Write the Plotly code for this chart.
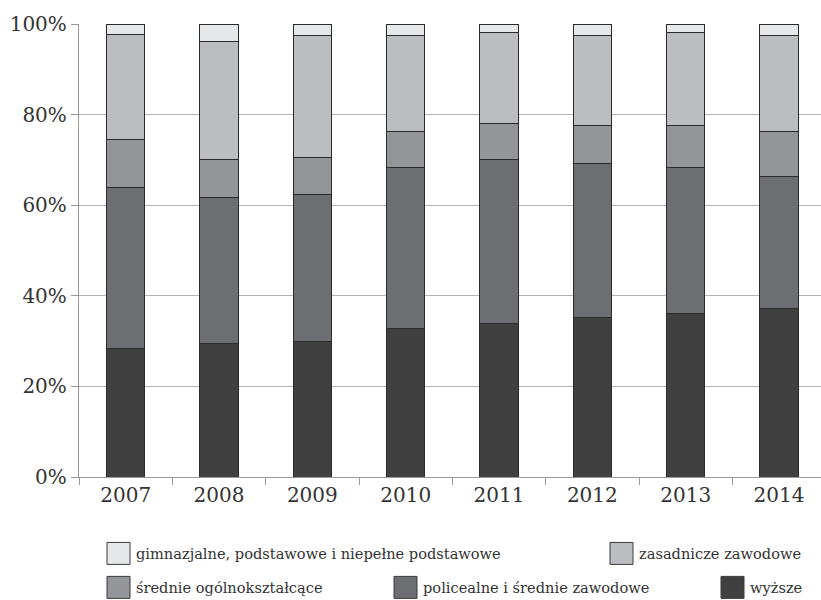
import plotly.graph_objects as go

years = ["2007", "2008", "2009", "2010", "2011", "2012", "2013", "2014"]

# shares of each education level, percent (bottom to top of the stack)
wyzsze = [28.3, 29.4, 29.9, 32.7, 33.8, 35.2, 36.1, 37.2]
policealne = [35.7, 32.2, 32.5, 35.7, 36.2, 33.9, 32.3, 29.2]
srednie_ogolne = [10.5, 8.4, 8.1, 7.8, 8.1, 8.6, 9.3, 9.8]
zasadnicze = [23.1, 26.2, 26.9, 21.2, 20.0, 19.7, 20.4, 21.2]
gimnazjalne = [2.4, 3.8, 2.6, 2.6, 1.9, 2.6, 1.9, 2.6]

y_ticks = [0, 20, 40, 60, 80, 100]
y_labels = ["0%", "20%", "40%", "60%", "80%", "100%"]

series = [
    ("wyższe", wyzsze, "#404041"),
    ("policealne i średnie zawodowe", policealne, "#6d6e71"),
    ("średnie ogólnokształcące", srednie_ogolne, "#939598"),
    ("zasadnicze zawodowe", zasadnicze, "#bcbdc0"),
    ("gimnazjalne, podstawowe i niepełne podstawowe", gimnazjalne, "#e6e7e8"),
]

W, H = 821, 600
fig = go.Figure()
for name, vals, color in series:
    fig.add_trace(go.Bar(
        x=years, y=vals, name=name, width=0.41,
        marker=dict(color=color, line=dict(color="#2b2b2b", width=1)),
        showlegend=False,
    ))

font_ticks = dict(family="DejaVu Serif", size=20, color="#333333")

fig.update_layout(
    width=W, height=H,
    barmode="stack",
    paper_bgcolor="white", plot_bgcolor="white",
    margin=dict(l=79, r=0, t=24, b=122.5),
    xaxis=dict(
        type="category", range=[-0.5, 7.45],
        showline=True, linecolor="#9a9a9a", linewidth=1.3,
        ticks="outside", tickson="boundaries", ticklen=7, tickcolor="#9a9a9a",
        tickfont=font_ticks, showgrid=False,
    ),
    yaxis=dict(
        range=[0, 100], tickmode="array", tickvals=y_ticks, ticktext=y_labels,
        showline=True, linecolor="#9a9a9a", linewidth=1.3,
        ticks="outside", ticklen=7, tickcolor="#9a9a9a",
        showgrid=True, gridcolor="#b3b3b3", gridwidth=1.3,
        tickfont=font_ticks, zeroline=False,
    ),
)

# legend drawn as swatches with labels, in pixel positions converted to paper units
pw = W - 79
ph = H - 24 - 122.5


def px_x(x):
    return (x - 79) / pw


def px_y(y):
    return (H - 122.5 - y) / ph


legend_items = [
    ("gimnazjalne, podstawowe i niepełne podstawowe", "#e6e7e8", 107, 543),
    ("zasadnicze zawodowe", "#bcbdc0", 610, 543),
    ("średnie ogólnokształcące", "#939598", 107, 577),
    ("policealne i średnie zawodowe", "#6d6e71", 394, 577),
    ("wyższe", "#404041", 721, 577),
]
for label, color, x0, y0 in legend_items:
    fig.add_shape(
        type="rect", xref="paper", yref="paper",
        x0=px_x(x0), x1=px_x(x0 + 23), y0=px_y(y0 + 22), y1=px_y(y0),
        fillcolor=color, line=dict(color="#3a3a3a", width=1),
    )
    fig.add_annotation(
        xref="paper", yref="paper", x=px_x(x0 + 27), y=px_y(y0 + 11),
        xanchor="left", yanchor="middle", showarrow=False, text=label,
        font=dict(family="DejaVu Serif", size=14.6, color="#333333"),
    )

fig.write_html("out.html")
